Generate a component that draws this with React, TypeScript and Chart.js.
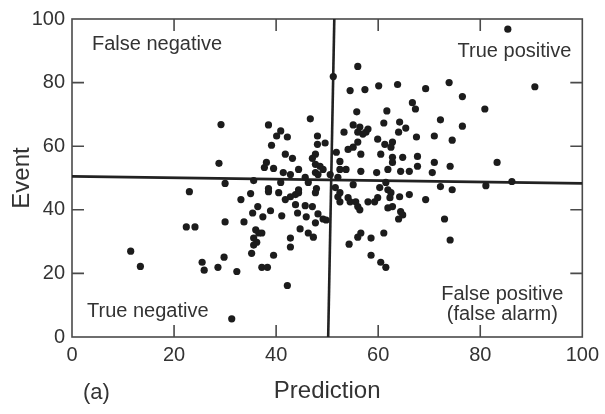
import React, { useEffect, useRef } from "react";
import { Chart, registerables } from "chart.js";

Chart.register(...registerables);

// Prediction (x) and Event (y) values
const prediction = [
  29.2, 28.8, 30.0, 23.0, 22.4, 24.1, 30.0, 11.5, 13.4, 25.5, 25.9, 28.6, 29.8, 31.3,
  33.1, 35.0, 38.5, 40.5, 41.8, 42.8, 43.8, 44.4, 47.7, 36.4, 35.4, 38.9, 37.4, 41.1,
  43.8, 44.2, 45.7, 47.1, 45.9, 48.2, 47.7, 49.2, 49.8, 33.7, 36.0, 36.6, 35.6, 36.2,
  35.6, 37.2, 44.7, 46.3, 47.3, 42.8, 42.8, 35.2, 39.5, 32.3, 37.2, 38.3, 42.2,
  46.7, 38.5, 40.9, 40.1, 42.2, 39.1, 48.1, 48.1, 49.6, 47.7, 47.1, 41.8, 43.2, 38.1,
  37.7, 39.5, 44.4, 47.7, 48.6, 49.2, 47.7, 48.2, 41.4, 42.8, 45.7, 50.6, 35.6, 40.9,
  46.3, 38.5, 44.4, 47.9,
  51.8, 52.5, 52.5, 52.1, 54.1, 53.7, 51.6, 52.1, 53.3, 51.2, 54.5,
  56.0, 57.6, 56.0, 55.1, 59.9, 61.3, 62.8, 56.6, 60.5, 56.6, 59.7, 61.9, 52.5, 54.1,
  54.5, 52.5, 55.6, 56.0, 56.4, 55.1, 58.0, 59.3, 59.9, 60.3, 61.9,
  56.0, 57.4, 60.1, 63.8, 69.3, 73.9, 76.5, 66.7, 67.3, 55.8, 61.7, 72.2, 76.5, 55.1,
  56.4, 58.0, 57.0, 61.1, 64.2, 64.0, 65.4, 67.5, 71.0, 74.5, 62.5,
  62.8, 62.8, 64.8, 67.7, 67.7, 71.0, 70.6, 74.1, 64.4, 66.1, 72.2, 74.5, 61.5, 62.5,
  64.2, 66.1, 69.3, 62.3, 62.8, 61.9, 64.4, 64.8, 64.0, 73.0, 74.1, 56.6, 56.0, 58.6,
  61.1, 54.3, 58.6, 60.5, 61.5,
  85.4, 90.7, 80.9, 83.3, 81.1, 86.2,
];

const eventValues = [
  66.8, 54.6, 48.3, 45.7, 34.6, 34.6, 36.2, 27.0, 22.2, 23.5, 21.0, 21.9, 25.1, 5.7,
  43.2, 45.1, 45.7, 45.4, 43.2, 44.1, 44.8, 45.4, 45.4, 41.0, 39.0, 39.7, 37.8, 38.1,
  41.6, 39.0, 41.3, 41.0, 37.8, 38.7, 35.9, 37.1, 36.8, 36.2, 33.7, 32.7, 31.1, 29.8,
  28.9, 32.7, 34.0, 32.7, 31.4, 31.1, 28.3, 26.3, 25.7, 20.6, 21.9, 21.9, 16.2,
  68.6, 66.7, 64.8, 63.2, 62.9, 60.3, 63.2, 60.6, 61.0, 57.5, 56.2, 57.5, 56.2, 54.9,
  53.3, 53.0, 52.7, 54.3, 53.7, 52.7, 51.7, 51.1, 51.7, 51.1, 50.2, 51.1, 49.2, 48.6,
  48.6, 46.7, 46.3, 46.7,
  58.1, 55.2, 52.7, 50.2, 59.0, 52.7, 47.0, 44.1, 64.4, 81.9, 77.5,
  64.4, 64.4, 61.3, 59.7, 62.2, 60.6, 61.3, 57.5, 57.5, 52.1, 51.7, 52.7, 45.4, 43.8,
  42.5, 42.5, 42.5, 41.0, 40.0, 47.9, 42.5, 42.5, 43.8, 47.0, 46.3,
  85.1, 77.8, 79.0, 79.4, 78.1, 80.0, 75.6, 73.7, 71.7, 70.8, 71.1, 68.3, 66.3, 66.7,
  66.0, 65.4, 63.8, 67.3, 67.6, 64.4, 65.7, 62.9, 63.2, 61.9, 59.7,
  56.5, 54.9, 56.5, 56.8, 53.7, 54.9, 51.7, 53.7, 52.1, 52.1, 47.3, 46.3, 48.6, 45.4,
  44.1, 44.8, 43.2, 43.8, 41.0, 40.6, 39.4, 38.4, 37.1, 37.1, 30.5, 32.7, 31.4, 31.1,
  32.7, 29.2, 25.7, 23.5, 21.9,
  96.8, 78.7, 71.7, 54.9, 47.6, 48.9,
];

const xTickValues = [0, 20, 40, 60, 80, 100];
const yTickValues = [0, 20, 40, 60, 80, 100];

// threshold lines (as drawn, slightly tilted by the scan)
const verticalLineX = [50.2, 51.4]; // at event = 0 and event = 100
const horizontalLineY = [50.5, 48.3]; // at prediction = 0 and prediction = 100

const quadrantTexts = ["False negative", "True positive", "True negative", "False positive", "(false alarm)"];
const panelLabel = "(a)";
const xTitle = "Prediction";
const yTitle = "Event";

const FONT = "'Liberation Sans', Arial, sans-serif";
const TEXT = "#333333";

const decorPlugin = {
  id: "decor",
  beforeDatasetsDraw(chart: any) {
    const { ctx, chartArea: a, scales } = chart;
    const xs = scales.x;
    const ys = scales.y;
    ctx.save();
    ctx.strokeStyle = "#4a4a4a";
    ctx.lineWidth = 1.6;
    ctx.strokeRect(a.left, a.top, a.right - a.left, a.bottom - a.top);
    const tl = 12;
    ctx.beginPath();
    xTickValues.forEach((v) => {
      if (v === 0 || v === 100) return;
      const px = xs.getPixelForValue(v);
      ctx.moveTo(px, a.bottom);
      ctx.lineTo(px, a.bottom - tl);
      ctx.moveTo(px, a.top);
      ctx.lineTo(px, a.top + tl);
    });
    yTickValues.forEach((v) => {
      if (v === 0 || v === 100) return;
      const py = ys.getPixelForValue(v);
      ctx.moveTo(a.left, py);
      ctx.lineTo(a.left + tl, py);
      ctx.moveTo(a.right, py);
      ctx.lineTo(a.right - tl, py);
    });
    ctx.stroke();
    ctx.restore();
  },
  afterDraw(chart: any) {
    const { ctx, chartArea: a } = chart;
    ctx.save();
    ctx.fillStyle = TEXT;
    ctx.font = `20px ${FONT}`;
    ctx.textBaseline = "alphabetic";
    ctx.textAlign = "left";
    ctx.fillText(quadrantTexts[0], a.left + 20, a.top + 31);
    ctx.fillText(quadrantTexts[2], a.left + 15, a.bottom - 20);
    ctx.textAlign = "right";
    ctx.fillText(quadrantTexts[1], a.right - 11, a.top + 38);
    ctx.textAlign = "center";
    ctx.fillText(quadrantTexts[3], a.right - 80, a.bottom - 37);
    ctx.fillText(quadrantTexts[4], a.right - 80, a.bottom - 17);
    ctx.textAlign = "left";
    ctx.font = `22px ${FONT}`;
    ctx.fillText(panelLabel, a.left + 11, a.bottom + 62);
    ctx.restore();
  },
};

export default function App() {
  const ref = useRef<HTMLCanvasElement | null>(null);

  useEffect(() => {
    document.body.style.margin = "0";
    const canvas = ref.current;
    if (!canvas) return;
    const points = prediction.map((p, i) => ({ x: p, y: eventValues[i] }));
    const chart = new Chart(canvas, {
      type: "scatter",
      data: {
        datasets: [
          {
            data: points,
            pointRadius: 3.6,
            pointBackgroundColor: "#1c1c1c",
            pointBorderWidth: 0,
            order: 0,
          } as any,
          {
            type: "line",
            data: [
              { x: 0, y: horizontalLineY[0] },
              { x: 100, y: horizontalLineY[1] },
            ],
            borderColor: "#222222",
            borderWidth: 2.6,
            pointRadius: 0,
            order: 1,
          } as any,
          {
            type: "line",
            data: [
              { x: verticalLineX[0], y: 0 },
              { x: verticalLineX[1], y: 100 },
            ],
            borderColor: "#222222",
            borderWidth: 2.6,
            pointRadius: 0,
            order: 1,
          } as any,
        ],
      },
      options: {
        responsive: false,
        animation: false,
        layout: { padding: { left: 0, right: 19, top: 18, bottom: 0 } },
        plugins: { legend: { display: false }, tooltip: { enabled: false } },
        scales: {
          x: {
            type: "linear",
            min: 0,
            max: 100,
            afterBuildTicks: (s: any) => {
              s.ticks = xTickValues.map((v) => ({ value: v }));
            },
            afterFit: (s: any) => {
              s.height = 77;
            },
            grid: { display: false, drawTicks: false },
            border: { display: false },
            ticks: {
              padding: 6,
              color: TEXT,
              font: { family: FONT, size: 20 },
              maxRotation: 0,
              autoSkip: false,
            },
            title: {
              display: true,
              text: xTitle,
              color: TEXT,
              font: { family: FONT, size: 24 },
              padding: { top: 0, bottom: 8 },
            },
          },
          y: {
            type: "linear",
            min: 0,
            max: 100,
            afterBuildTicks: (s: any) => {
              s.ticks = yTickValues.map((v) => ({ value: v }));
            },
            afterFit: (s: any) => {
              s.width = 72;
            },
            grid: { display: false, drawTicks: false },
            border: { display: false },
            ticks: {
              padding: 7,
              color: TEXT,
              font: { family: FONT, size: 20 },
              autoSkip: false,
            },
            title: {
              display: true,
              text: yTitle,
              color: TEXT,
              font: { family: FONT, size: 24 },
              padding: { top: 8, bottom: 0 },
            },
          },
        },
      },
      plugins: [decorPlugin],
    } as any);
    return () => chart.destroy();
  }, []);

  return (
    <div style={{ position: "absolute", left: 0, top: 0, width: 605, height: 414, background: "#ffffff" }}>
      <canvas ref={ref} width={605} height={414} style={{ display: "block", width: 605, height: 414 }} />
    </div>
  );
}
